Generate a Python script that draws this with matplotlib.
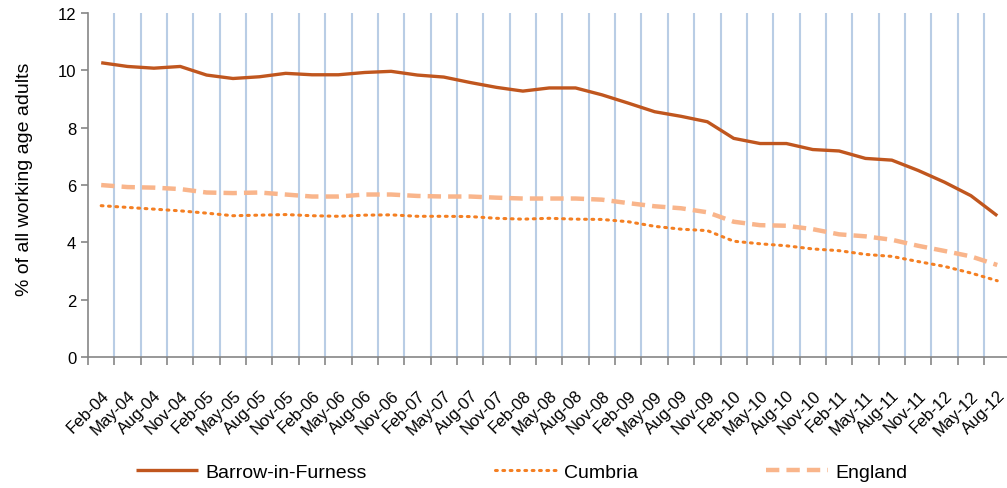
import numpy as np
import matplotlib.pyplot as plt

plt.rcParams['font.family'] = ['Liberation Sans', 'DejaVu Sans']

# Квартальные метки
quarters = []
for yr in range(4, 13):
    for m in ['Feb', 'May', 'Aug', 'Nov']:
        quarters.append(f"{m}-{yr:02d}")
quarters = quarters[:35]

barrow = [10.27, 10.14, 10.08, 10.14, 9.84, 9.72, 9.78, 9.9, 9.85, 9.85,
          9.93, 9.97, 9.84, 9.77, 9.58, 9.41, 9.28, 9.39, 9.39, 9.15,
          8.86, 8.56, 8.4, 8.21, 7.63, 7.45, 7.45, 7.24, 7.19, 6.93,
          6.87, 6.51, 6.1, 5.63, 4.93]
cumbria = [5.28, 5.22, 5.16, 5.1, 5.02, 4.93, 4.95, 4.97, 4.93, 4.91,
           4.95, 4.96, 4.91, 4.91, 4.9, 4.84, 4.81, 4.84, 4.81, 4.8,
           4.72, 4.56, 4.46, 4.41, 4.04, 3.95, 3.88, 3.77, 3.71, 3.58,
           3.51, 3.33, 3.16, 2.93, 2.66]
england = [6.0, 5.93, 5.91, 5.86, 5.74, 5.72, 5.74, 5.67, 5.6, 5.6,
           5.67, 5.67, 5.62, 5.6, 5.6, 5.56, 5.53, 5.53, 5.53, 5.49,
           5.37, 5.26, 5.19, 5.05, 4.72, 4.6, 4.58, 4.46, 4.28, 4.21,
           4.09, 3.88, 3.7, 3.51, 3.21]

x = np.arange(len(quarters))

fig = plt.figure(figsize=(10.07, 4.89), dpi=100)
ax = fig.add_axes([0.0874, 0.268, 0.916, 0.703])

# вертикальные линии сетки между категориями
for b in np.arange(0.5, len(quarters) - 0.5, 1):
    ax.axvline(b, color='#b9cde5', lw=1.5, zorder=1)

ax.plot(x, barrow, color='#c0561e', lw=2.4, label='Barrow-in-Furness', zorder=3,
        solid_capstyle='butt')
ax.plot(x, cumbria, color='#f47f22', lw=2.2, linestyle=(0, (0.6, 1.8)),
        dash_capstyle='round', label='Cumbria', zorder=3)
ax.plot(x, england, color='#f9b58b', lw=3.2, linestyle=(0, (3, 1.6)),
        label='England', zorder=3)

ax.set_xlim(-0.5, len(quarters) - 0.5)
ax.set_ylim(0, 12)
ax.set_yticks(range(0, 13, 2))

ax.set_xticks(np.arange(-0.5, len(quarters) - 0.5, 1), minor=True)
ax.set_xticks(x)
ax.set_xticklabels(quarters, rotation=45, ha='right', rotation_mode='anchor',
                   fontsize=12)
ax.tick_params(axis='x', which='major', length=0, pad=22)
ax.tick_params(axis='x', which='minor', length=6, color='#868686', width=1.2)
ax.tick_params(axis='y', length=5, color='#868686', width=1.2, labelsize=12)

for s in ['top', 'right']:
    ax.spines[s].set_visible(False)
for s in ['left', 'bottom']:
    ax.spines[s].set_color('#868686')
    ax.spines[s].set_linewidth(1.2)

ax.set_ylabel('% of all working age adults', fontsize=14)
ax.yaxis.set_label_coords(-0.06, 0.52)

fig.legend(loc='center', bbox_to_anchor=(0.518, 0.033), ncol=3, frameon=False,
           fontsize=14, handlelength=3.2, columnspacing=6.6, handletextpad=0.36)

fig.savefig('out.png', dpi=100)
